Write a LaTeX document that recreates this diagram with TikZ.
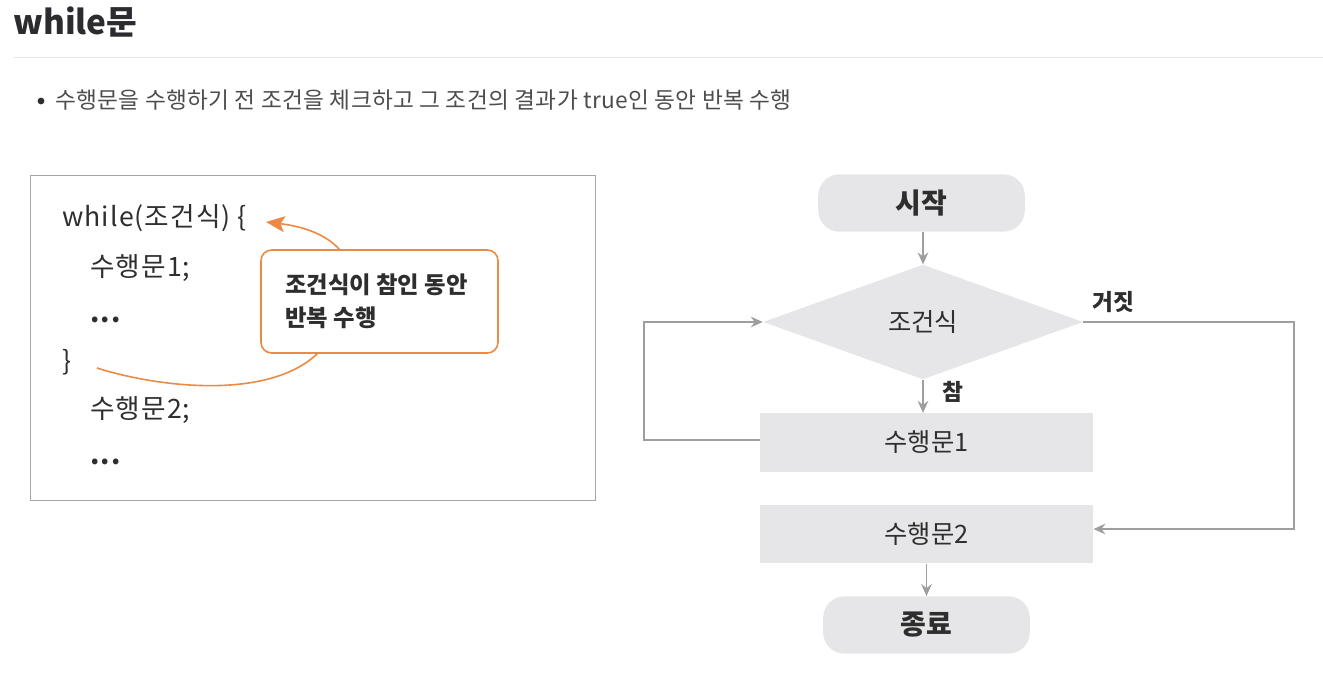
\documentclass[tikz,border=0pt]{standalone}
\usepackage{fontspec}
\setmainfont{Noto Sans CJK KR}
\usetikzlibrary{arrows.meta,shapes.geometric}
\definecolor{boxfill}{HTML}{E6E6E8}
\definecolor{linegray}{HTML}{9E9E9E}
\definecolor{orangeline}{HTML}{EC8A44}
\definecolor{textdark}{HTML}{2E2E2E}
\definecolor{titlecol}{HTML}{2B2B30}
\tikzset{
  px/.style={x=0.75pt,y=-0.75pt},
  flowline/.style={draw=linegray,line width=1.1pt},
  flowarrow/.style={flowline,-{Stealth[length=9pt,width=8pt,inset=3pt]}},
  termbox/.style={draw=none,fill=boxfill,rounded corners=16pt,minimum width=155pt,minimum height=43pt,font=\fontsize{21}{24}\selectfont\bfseries,text=textdark},
  stepbox/.style={draw=none,fill=boxfill,minimum width=250pt,minimum height=44pt,font=\fontsize{19}{22}\selectfont,text=textdark},
  condbox/.style={diamond,draw=none,fill=boxfill,minimum width=240pt,minimum height=86pt,aspect=2.78,inner sep=0pt,font=\fontsize{19}{22}\selectfont,text=textdark},
  codetext/.style={anchor=west,font=\fontsize{20}{22}\selectfont\addfontfeature{LetterSpace=4}, text=textdark,inner sep=0pt},
  lbl/.style={font=\fontsize{17}{19}\selectfont\bfseries,text=textdark,inner sep=0pt},
}
\begin{document}
\begin{tikzpicture}[px]
\useasboundingbox (0,0) rectangle (1323,688);
% title
\node[anchor=west,inner sep=0pt,font=\fontsize{25}{28}\selectfont\bfseries,text=titlecol] (title) at (13,22) {while문};
\draw[draw=black!10,line width=0.75pt] (14,58) -- (1323,58);
\fill[textdark] (41,101) circle (3.4);
\node[anchor=west,inner sep=0pt,font=\fontsize{17}{18}\selectfont\addfontfeature{LetterSpace=1.5},text=textdark!85] (bullet) at (55,100) {수행문을 수행하기 전 조건을 체크하고 그 조건의 결과가 true인 동안 반복 수행};
% left code box
\node[draw=black!35,line width=0.75pt,minimum width=423.75pt,minimum height=243.75pt,inner sep=0pt] (codebox) at (312.5,337.5) {};
\node[codetext] (c1) at (62,218) {while(조건식) \{};
\node[codetext] (c2) at (90,268) {수행문1;};
\node[codetext] (c3) at (90,320) {\textbf{...}};
\node[codetext] (c4) at (62,362) {\}};
\node[codetext] (c5) at (90,410) {수행문2;};
\node[codetext] (c6) at (90,462) {\textbf{...}};
\node[draw=orangeline,line width=1.2pt,rounded corners=8pt,minimum width=177.75pt,minimum height=77.25pt,inner sep=0pt] (callout) at (379.5,301.5) {};
\node[anchor=west,inner sep=0pt,align=left,font=\fontsize{17.5}{25}\selectfont\bfseries,text=textdark] (ctext) at (285,301) {조건식이 참인 동안\\반복 수행};
\coordinate (ctop) at (340,250);
\coordinate (cbot) at (318,353);
\coordinate (tip) at (266,222);
\coordinate (brace) at (97,368);
\draw[draw=orangeline,line width=1.2pt,-{Stealth[length=14pt,width=12pt,inset=3pt]}] (ctop) .. controls (325,233) and (300,226) .. (tip);
\draw[draw=orangeline,line width=1.2pt] (brace) .. controls (160,388) and (270,400) .. (cbot);
% flowchart
\node[termbox] (start) at (921.5,203) {시작};
\node[condbox] (cond) at (923,322) {조건식};
\node[stepbox] (s1) at (926.5,442.5) {수행문1};
\node[stepbox] (s2) at (926.5,534) {수행문2};
\node[termbox] (end) at (926.5,625) {종료};
\draw[flowarrow] (start.south -| cond.north) -- (cond.north);
\draw[flowarrow] (cond.south) -- (s1.north -| cond.south);
\node[lbl,anchor=west] (true) at (942,392) {참};
\coordinate (lp1) at (644,440);
\coordinate (lp2) at (644,322);
\draw[flowarrow] (s1.west |- lp1) -- (lp1) -- (lp2) -- (cond.west);
\node[lbl,anchor=west] (false) at (1092,302) {거짓};
\coordinate (rp1) at (1294,322);
\coordinate (rp2) at (1294,529);
\draw[flowarrow] (cond.east) -- (rp1) -- (rp2) -- (s2.east |- rp2);
\draw[flowarrow] (s2.south) -- (end.north);
\end{tikzpicture}
\end{document}
